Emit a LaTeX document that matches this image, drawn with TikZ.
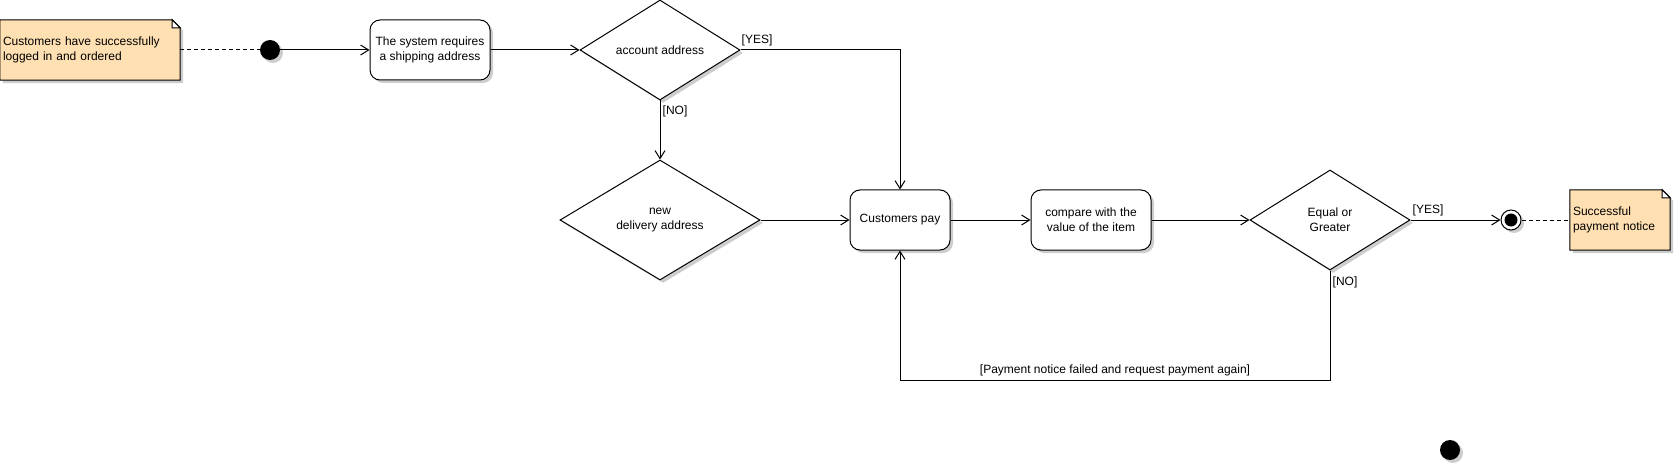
\documentclass[tikz,border=0pt]{standalone}
\usepackage{fontspec}
\setmainfont{Liberation Sans}
\usetikzlibrary{arrows.meta,shapes.geometric,shadows,backgrounds}
\definecolor{notefill}{RGB}{255,224,178}
\definecolor{shadowgray}{RGB}{205,205,205}
\tikzset{
  txt/.style={font=\fontsize{12}{15}\selectfont},
  shadowed/.style={drop shadow={shadow xshift=3pt,shadow yshift=-3pt,fill=shadowgray,opacity=1}},
  conn/.style={draw=black,line width=1pt,-{Straight Barb[length=8pt,width=10pt]}},
  anchorlink/.style={draw=black,line width=1pt,dash pattern=on 4pt off 3pt},
  actbox/.style={txt,draw,line width=1pt,rounded corners=10pt,fill=white,
    minimum height=60pt,align=center,inner sep=0pt,shadowed},
  decision/.style={txt,diamond,draw,line width=1pt,fill=white,inner sep=0pt,
    align=center,shadowed},
  notetext/.style={txt,inner xsep=3pt,inner ysep=0pt,minimum height=60pt,align=left},
  notebg/.style={fill=notefill,draw=black,line width=1pt},
  lbl/.style={txt,inner sep=0pt},
  startdot/.style={circle,fill=black,minimum size=20pt,inner sep=0pt,shadowed},
}
\begin{document}
\begin{tikzpicture}[x=1pt,y=-1pt]
\useasboundingbox (0,0) rectangle (1675,465);

% notes (text)
\node (n1) [notetext,text width=174pt] at (90,50) {Customers have successfully\\logged in and ordered};
\node (n2) [notetext,text width=94pt] at (1620,220) {Successful\\payment notice};

% initial / final
\node (start) [startdot] at (270,50) {};
\node (stray) [startdot] at (1450,450) {};
\node (fin) [circle,draw,line width=1pt,fill=white,minimum size=20pt,inner sep=0pt,shadowed] at (1511,220) {};
\fill (fin.center) circle (6.5pt);

% actions
\node (b1) [actbox,minimum width=120pt] at (430,50) {The system requires\\ a shipping address};
\node (pay) [actbox,minimum width=100pt] at (900,220) {Customers pay};
\node (cmp) [actbox,minimum width=120pt] at (1091,220) {compare with the\\value of the item};

% decisions
\node (d1) [decision,minimum width=160pt,minimum height=100pt] at (660,50) {account address};
\node (d2) [decision,minimum width=200pt,minimum height=120pt] at (660,220) {new\\delivery address};
\node (d3) [decision,minimum width=160pt,minimum height=100pt] at (1330,220) {Equal or\\Greater};

% note backgrounds
\begin{scope}[on background layer]
  \foreach \n in {n1,n2}{
    \fill[shadowgray,transform canvas={xshift=3pt,yshift=-3pt}]
      (\n.north west) -- ([xshift=-8pt]\n.north east) -- ([yshift=-8pt]\n.north east)
      -- (\n.south east) -- (\n.south west) -- cycle;
    \path[notebg] (\n.north west) -- ([xshift=-8pt]\n.north east) -- ([yshift=-8pt]\n.north east)
      -- (\n.south east) -- (\n.south west) -- cycle;
    \draw[line width=1pt,fill=white] ([xshift=-8pt]\n.north east) -- ([xshift=-8pt,yshift=-8pt]\n.north east)
      -- ([yshift=-8pt]\n.north east) -- cycle;
  }
\end{scope}

% connectors
\draw[anchorlink] (n1.east) -- (start.west);
\draw[conn] (start.east) -- (b1.west);
\draw[conn] (b1.east) -- (d1.west);
\draw[conn] (d1.east) -| (pay.north);
\draw[conn] (d1.south) -- (d2.north);
\draw[conn] (d2.east) -- (pay.west);
\draw[conn] (pay.east) -- (cmp.west);
\draw[conn] (cmp.east) -- (d3.west);
\draw[conn] (d3.east) -- (fin.west);
\draw[anchorlink] (fin.east) -- (n2.west);
\draw[conn] (d3.south) -- ++(0,110) -| (pay.south);

% guards
\node[lbl] at (757,40) {[YES]};
\node[lbl] at (675,111) {[NO]};
\node[lbl] at (1428,210) {[YES]};
\node[lbl] at (1345,282) {[NO]};
\node[lbl] at (1115,370) {[Payment notice failed and request payment again]};
\end{tikzpicture}
\end{document}
